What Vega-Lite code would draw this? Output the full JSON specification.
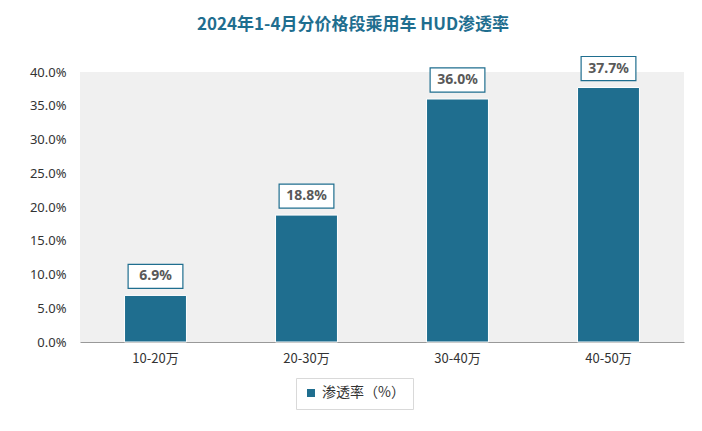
{
  "$schema": "https://vega.github.io/schema/vega-lite/v6.json",
  "width": 604,
  "height": 270,
  "autosize": "none",
  "padding": {"left": 80, "top": 72, "right": 18, "bottom": 89},
  "background": "white",
  "config": {
    "view": {"fill": "#f0f0f0", "stroke": null},
    "font": "Noto Sans"
  },
  "title": {
    "text": "2024年1-4月分价格段乘用车 HUD渗透率",
    "font": "Noto Sans CJK SC",
    "fontSize": 17,
    "fontWeight": "bold",
    "color": "#1F6E8F",
    "anchor": "middle",
    "dx": -29,
    "offset": 20
  },
  "data": {
    "values": [
      {"range": "10-20万", "rate": 0.069, "series": "渗透率（%）"},
      {"range": "20-30万", "rate": 0.188, "series": "渗透率（%）"},
      {"range": "30-40万", "rate": 0.360, "series": "渗透率（%）"},
      {"range": "40-50万", "rate": 0.377, "series": "渗透率（%）"}
    ]
  },
  "encoding": {
    "x": {
      "field": "range",
      "type": "nominal",
      "sort": null,
      "scale": {"paddingInner": 0.59, "paddingOuter": 0.295},
      "axis": {
        "title": null,
        "labelAngle": 0,
        "labelFont": "Noto Sans CJK SC",
        "labelFontSize": 13,
        "labelColor": "#333333",
        "labelPadding": 10,
        "ticks": false,
        "domainColor": "#999999",
        "domainWidth": 1
      }
    },
    "y": {
      "field": "rate",
      "type": "quantitative",
      "scale": {"domain": [0, 0.4]},
      "axis": {
        "title": null,
        "format": ".1%",
        "values": [0, 0.05, 0.1, 0.15, 0.2, 0.25, 0.3, 0.35, 0.4],
        "labelOverlap": false,
        "grid": false,
        "domain": false,
        "ticks": false,
        "labelFontSize": 13,
        "labelColor": "#333333",
        "labelPadding": 14
      }
    }
  },
  "layer": [
    {
      "mark": {"type": "bar", "stroke": "white", "strokeWidth": 1},
      "encoding": {
        "color": {
          "field": "series",
          "type": "nominal",
          "scale": {"range": ["#1F6E8F"]},
          "legend": {
            "title": null,
            "orient": "none",
            "legendX": 216,
            "legendY": 306,
            "symbolType": "square",
            "symbolSize": 90,
            "labelFont": "Noto Sans CJK SC",
            "labelFontSize": 14,
            "labelColor": "#333333",
            "strokeColor": "#d9d9d9",
            "padding": 8
          }
        }
      }
    },
    {
      "mark": {
        "type": "point",
        "shape": "M-1,-0.44L1,-0.44L1,0.44L-1,0.44Z",
        "size": 3000,
        "filled": true,
        "fill": "white",
        "stroke": "#1F6E8F",
        "strokeWidth": 1.2,
        "opacity": 1,
        "yOffset": -19
      }
    },
    {
      "mark": {
        "type": "text",
        "fontSize": 14,
        "fontWeight": "bold",
        "color": "#595959",
        "yOffset": -19,
        "baseline": "middle"
      },
      "encoding": {
        "text": {"field": "rate", "type": "quantitative", "format": ".1%"}
      }
    }
  ]
}
